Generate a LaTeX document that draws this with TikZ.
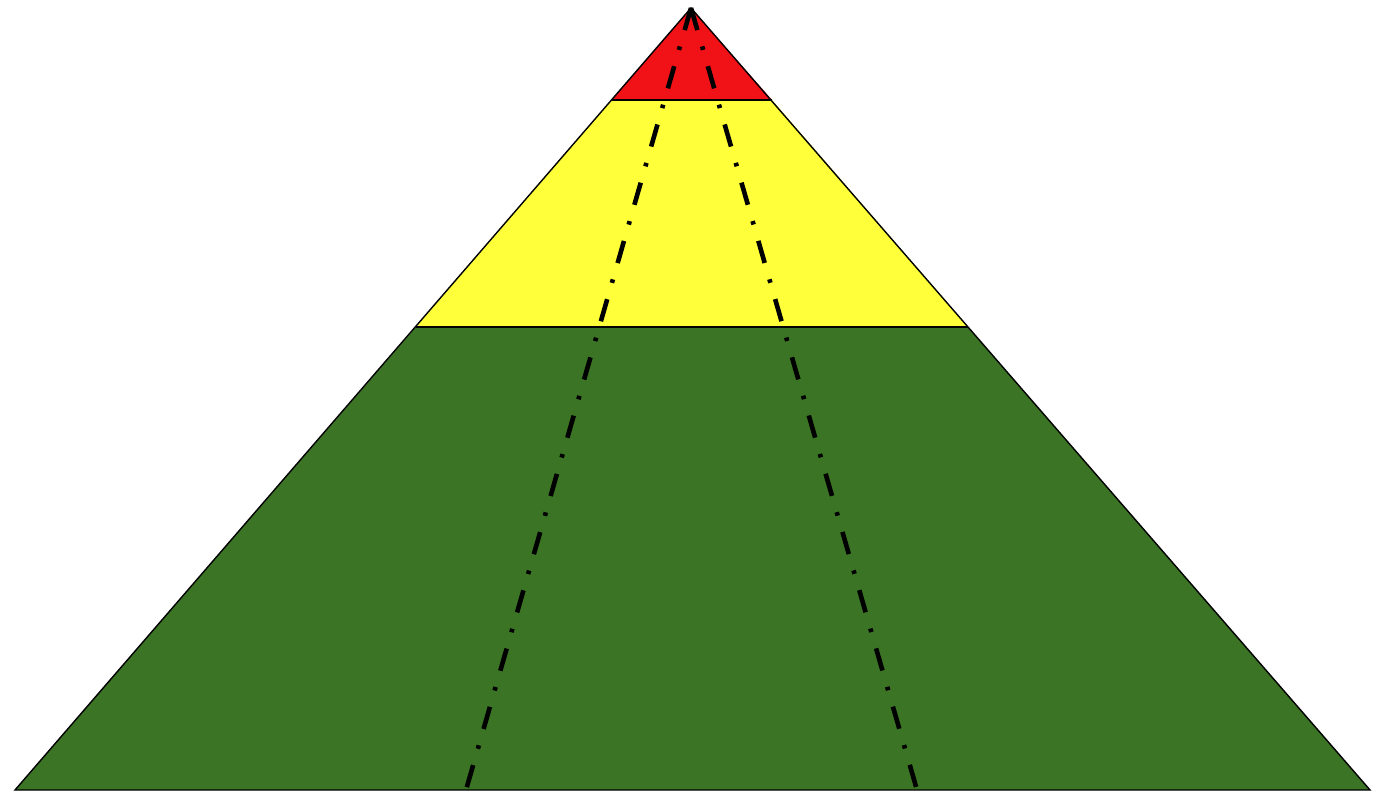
\documentclass[tikz,border=0pt]{standalone}
\definecolor{pred}{RGB}{240,18,22}
\definecolor{pyellow}{RGB}{255,255,58}
\definecolor{pgreen}{RGB}{59,116,36}
\tikzset{
  band/.style={draw=black, line width=0.7pt, line join=miter},
  axisline/.style={black, line width=2.3pt, dash pattern=on 11.5pt off 8.5pt on 1.8pt off 8.5pt}
}
\begin{document}
\begin{tikzpicture}[x=0.5pt,y=-0.5pt]
\useasboundingbox (0,0) rectangle (1375,795);
\coordinate (A) at (691,8);
\coordinate (BL) at (15,790);
\coordinate (BR) at (1370,790);
\coordinate (YL) at (416,327);
\coordinate (YR) at (968,327);
\coordinate (RL) at (611.5,100);
\coordinate (RR) at (772,100);
\coordinate (DL) at (466,790);
\coordinate (DR) at (917,790);
\fill[pgreen] (YL) -- (YR) -- (BR) -- (BL) -- cycle;
\fill[pyellow] (RL) -- (RR) -- (YR) -- (YL) -- cycle;
\fill[pred] (A) -- (RR) -- (RL) -- cycle;
\draw[band] (A) -- (BL) -- (BR) -- cycle;
\draw[band] (RL) -- (RR);
\draw[band] (YL) -- (YR);
\draw[axisline] (A) -- (DL);
\draw[axisline] (A) -- (DR);
\end{tikzpicture}
\end{document}
